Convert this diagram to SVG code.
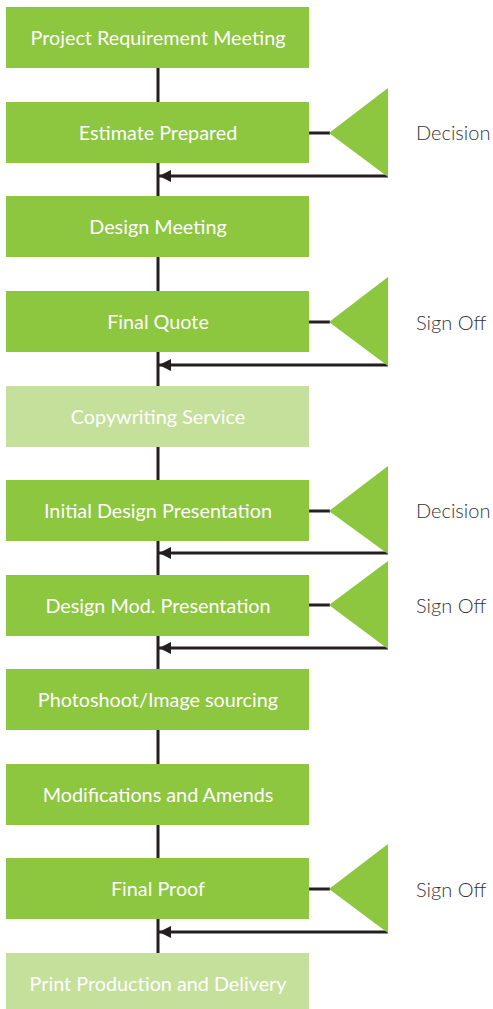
<svg xmlns="http://www.w3.org/2000/svg" width="493" height="1009" viewBox="0 0 493 1009">
<style>
.box{fill:#8DC63F}
.light{fill:#C5E09B}
.t{font-family:Lato,"Open Sans",sans-serif;font-size:19.8px;fill:#fff;text-anchor:middle}
.lbl{font-family:Lato,"Open Sans",sans-serif;font-weight:300;font-size:20px;fill:#333333}
.ln{stroke:#231F20;stroke-width:3;fill:none}
.tri{fill:#8DC63F}
</style>
<defs>
<marker id="ah" markerWidth="12" markerHeight="12" refX="12" refY="6" orient="auto" markerUnits="userSpaceOnUse" viewBox="0 0 12 12">
<path d="M0,0 L12,6 L0,12 Z" fill="#231F20"/>
</marker>
</defs>
<g id="connectors">
<line class="ln" x1="158" y1="68" x2="158" y2="953"/>
<line class="ln" x1="309" y1="133" x2="330" y2="133"/>
<line class="ln" x1="388" y1="176" x2="159" y2="176" marker-end="url(#ah)"/>
<line class="ln" x1="309" y1="322" x2="330" y2="322"/>
<line class="ln" x1="388" y1="365" x2="159" y2="365" marker-end="url(#ah)"/>
<line class="ln" x1="309" y1="511" x2="330" y2="511"/>
<line class="ln" x1="388" y1="553" x2="159" y2="553" marker-end="url(#ah)"/>
<line class="ln" x1="309" y1="605" x2="330" y2="605"/>
<line class="ln" x1="388" y1="648" x2="159" y2="648" marker-end="url(#ah)"/>
<line class="ln" x1="309" y1="889" x2="330" y2="889"/>
<line class="ln" x1="388" y1="932" x2="159" y2="932" marker-end="url(#ah)"/>
</g>
<g id="n1"><rect class="box" x="6" y="7" width="303" height="61"/><text class="t" x="158" y="45">Project Requirement Meeting</text></g>
<g id="n2"><rect class="box" x="6" y="102" width="303" height="61"/><text class="t" x="158" y="140">Estimate Prepared</text></g>
<g id="n3"><rect class="box" x="6" y="196" width="303" height="61"/><text class="t" x="158" y="234">Design Meeting</text></g>
<g id="n4"><rect class="box" x="6" y="291" width="303" height="61"/><text class="t" x="158" y="329">Final Quote</text></g>
<g id="n5"><rect class="light" x="6" y="386" width="303" height="61"/><text class="t" x="158" y="424">Copywriting Service</text></g>
<g id="n6"><rect class="box" x="6" y="480" width="303" height="61"/><text class="t" x="158" y="518">Initial Design Presentation</text></g>
<g id="n7"><rect class="box" x="6" y="575" width="303" height="61"/><text class="t" x="158" y="613">Design Mod. Presentation</text></g>
<g id="n8"><rect class="box" x="6" y="669" width="303" height="61"/><text class="t" x="158" y="707">Photoshoot/Image sourcing</text></g>
<g id="n9"><rect class="box" x="6" y="764" width="303" height="61"/><text class="t" x="158" y="802">Modifications and Amends</text></g>
<g id="n10"><rect class="box" x="6" y="858" width="303" height="61"/><text class="t" x="158" y="896">Final Proof</text></g>
<g id="n11"><rect class="light" x="6" y="953" width="303" height="56"/><text class="t" x="158" y="991">Print Production and Delivery</text></g>
<g id="d1"><polygon class="tri" points="329,133 388,88 388,177"/><text class="lbl" x="416" y="140">Decision</text></g>
<g id="d2"><polygon class="tri" points="329,322 388,277 388,366"/><text class="lbl" x="416" y="330">Sign Off</text></g>
<g id="d3"><polygon class="tri" points="329,511 388,466 388,554"/><text class="lbl" x="416" y="518">Decision</text></g>
<g id="d4"><polygon class="tri" points="329,605 388,561 388,649"/><text class="lbl" x="416" y="613">Sign Off</text></g>
<g id="d5"><polygon class="tri" points="329,889 388,844 388,933"/><text class="lbl" x="416" y="897">Sign Off</text></g>
</svg>
